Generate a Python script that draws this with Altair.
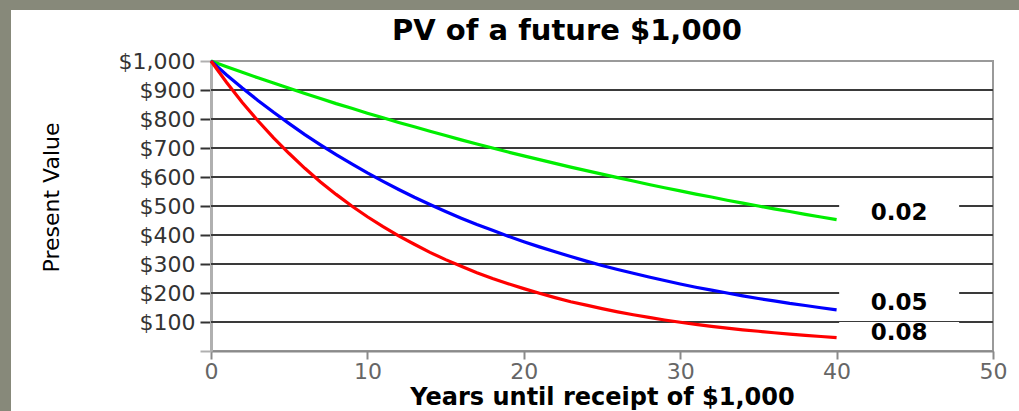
import altair as alt
import pandas as pd

# ---- data ----
years = list(range(0, 41))
pv_02 = [1000, 980, 961, 942, 924, 906, 888, 871, 853, 837, 820, 804, 788, 773, 758, 743,
         728, 714, 700, 686, 673, 660, 647, 634, 622, 610, 598, 586, 574, 563, 552, 541,
         531, 520, 510, 500, 490, 481, 471, 462, 453]
pv_05 = [1000, 952, 907, 864, 823, 784, 746, 711, 677, 645, 614, 585, 557, 530, 505, 481,
         458, 436, 416, 396, 377, 359, 342, 326, 310, 295, 281, 268, 255, 243, 231, 220,
         210, 200, 190, 181, 173, 164, 157, 149, 142]
pv_08 = [1000, 926, 857, 794, 735, 681, 630, 583, 540, 500, 463, 429, 397, 368, 340, 315,
         292, 270, 250, 232, 215, 199, 184, 170, 158, 146, 135, 125, 116, 107, 99, 92,
         85, 79, 73, 68, 63, 58, 54, 50, 46]
rates = ["0.02", "0.05", "0.08"]
colors = ["#00ee00", "#0000ff", "#ff0000"]
label_x = [44, 44, 44]
label_y = [476, 166, 62]
grid_values = [100, 200, 300, 400, 500, 600, 700, 800, 900]
y_ticks = [0, 100, 200, 300, 400, 500, 600, 700, 800, 900, 1000]
x_ticks = [0, 10, 20, 30, 40, 50]
title_text = "PV of a future $1,000"

rows = []
for r, series in zip(rates, [pv_02, pv_05, pv_08]):
    for t, v in zip(years, series):
        rows.append({"year": t, "pv": v, "rate": r})
df = pd.DataFrame(rows)
lab_df = pd.DataFrame({"rate": rates, "lx": label_x, "ly": label_y})
grid_df = pd.DataFrame({"g": grid_values})

W, H = 782, 290
PL, PT, PR, PB = 211, 61, 26, 60
FRAME = "#87897a"
FONT = "DejaVu Sans"

xscale = alt.Scale(domain=[0, 50], nice=False)
yscale = alt.Scale(domain=[0, 1000], nice=False)
cscale = alt.Scale(domain=rates, range=colors)

xaxis = alt.Axis(
    values=x_ticks, title="Years until receipt of $1,000", grid=False,
    labelFlush=False, labelOverlap=False,
    domainColor="#8a8a8a", domainWidth=2, tickColor="#8a8a8a", tickWidth=2, tickSize=8,
    labelFont=FONT, labelFontSize=22, labelColor="#666666", labelPadding=2,
    titleFont=FONT, titleFontSize=24, titleFontWeight="bold", titleColor="#000000",
    titlePadding=3,
)
yaxis = alt.Axis(
    values=y_ticks, title="Present Value", grid=False,
    labelOverlap=False, labelFlush=False,
    labelExpr="datum.value == 0 ? '' : format(datum.value, '$,.0f')",
    domainColor="#b0b0b0", domainWidth=3,
    tickColor={"condition": {"test": "datum.value == 0 || datum.value == 1000", "value": "#b0b0b0"}, "value": "#333333"},
    tickWidth=2, tickSize=11,
    labelFont=FONT, labelFontSize=22, labelColor="#333333", labelPadding=5,
    titleFont=FONT, titleFontSize=22, titleFontWeight="normal", titleColor="#000000",
    titleAngle=-90, titleX=-160, titleY=136, titleAlign="center", titleBaseline="middle",
)

one = alt.Data(values=[{}])
frame_left = alt.Chart(one).mark_rect(color=FRAME).encode(
    x=alt.value(-PL), x2=alt.value(-PL + 11), y=alt.value(-PT), y2=alt.value(H + PB)
)
frame_top = alt.Chart(one).mark_rect(color=FRAME).encode(
    x=alt.value(-PL), x2=alt.value(W + PR), y=alt.value(-PT), y2=alt.value(-PT + 10)
)
title = alt.Chart(one).mark_text(
    text=title_text, font=FONT, fontSize=29, fontWeight="bold", color="#000000",
    align="center", baseline="middle",
).encode(x=alt.value(567 - PL), y=alt.value(31 - PT))

grid = alt.Chart(grid_df).mark_rule(color="#3a3a3a", strokeWidth=1.8).encode(
    y=alt.Y("g:Q", scale=yscale, axis=yaxis),
    x=alt.value(0), x2=alt.value(W),
)

lines = alt.Chart(df).mark_line(strokeWidth=3.2).encode(
    x=alt.X("year:Q", scale=xscale, axis=xaxis),
    y=alt.Y("pv:Q", scale=yscale, axis=yaxis),
    color=alt.Color("rate:N", scale=cscale, legend=None),
)

label_bg = alt.Chart(lab_df).mark_rect(color="white", width=120, height=22).encode(
    x=alt.X("lx:Q", scale=xscale, axis=xaxis),
    y=alt.Y("ly:Q", scale=yscale, axis=yaxis),
)
label_txt = alt.Chart(lab_df).mark_text(
    font=FONT, fontSize=23, fontWeight="bold", color="#000000", align="center", baseline="middle"
).encode(
    x=alt.X("lx:Q", scale=xscale, axis=xaxis),
    y=alt.Y("ly:Q", scale=yscale, axis=yaxis),
    text="rate:N",
)

chart = alt.layer(frame_left, frame_top, title, grid, label_bg, lines, label_txt).properties(
    width=W, height=H,
    autosize=alt.AutoSizeParams(type="none"),
    padding={"left": PL, "top": PT, "right": PR, "bottom": PB},
    background="white",
).configure_view(stroke="#9a9a9a", strokeWidth=2).configure_axis(labelOverlap=False)

chart.save("out.html", embed_options={"renderer": "svg", "actions": False})
